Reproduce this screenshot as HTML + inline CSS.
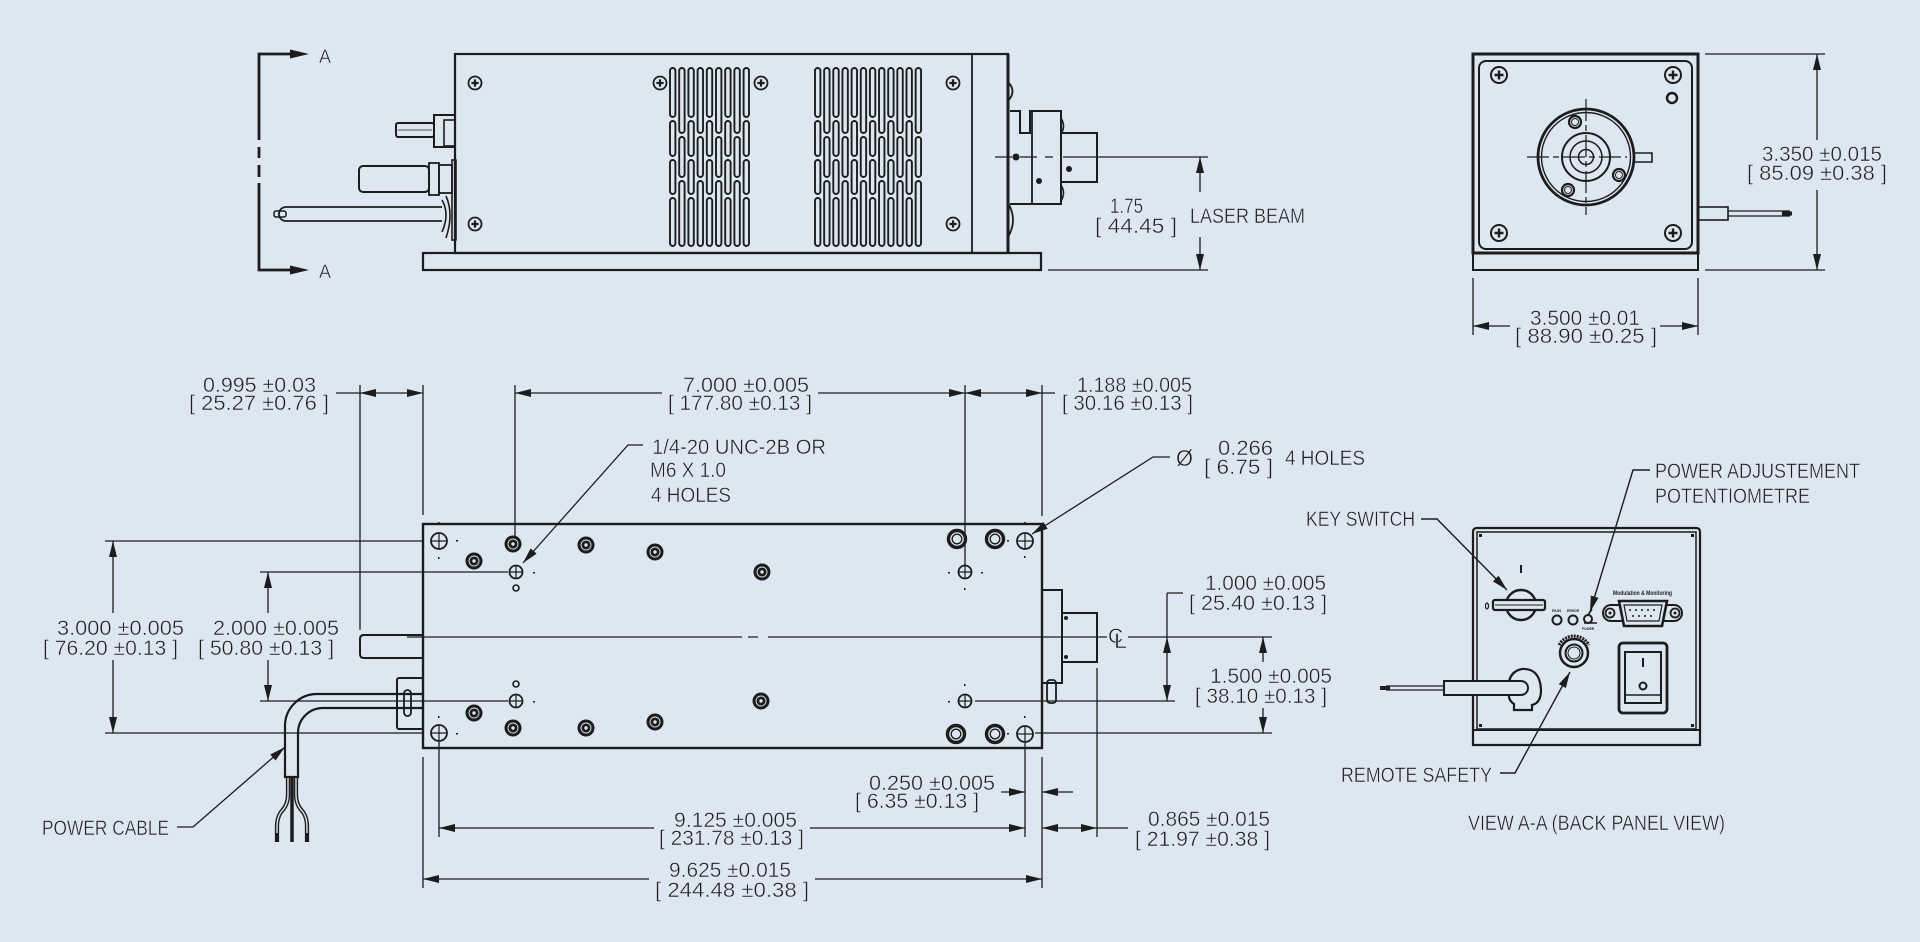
<!DOCTYPE html>
<html><head><meta charset="utf-8"><style>
html,body{margin:0;padding:0;background:#dde7f1;}
svg{display:block}
text{font-family:"Liberation Sans","DejaVu Sans",sans-serif;font-size:21px;fill:#1e1e1e;stroke:#dde7f1;stroke-width:0.45px;}
</style></head><body>
<svg width="1920" height="942" viewBox="0 0 1920 942" xmlns="http://www.w3.org/2000/svg" xmlns:xlink="http://www.w3.org/1999/xlink">
<rect width="1920" height="942" fill="#dde7f1"/>
<defs>
<g id="va" fill="#dde7f1" stroke="#1c1c1c" stroke-width="1.9">
<rect x="0" y="68" width="5.4" height="49" rx="2.7"/>
<rect x="0" y="121" width="5.4" height="35" rx="2.7"/>
<rect x="0" y="160" width="5.4" height="34" rx="2.7"/>
<rect x="0" y="198" width="5.4" height="48" rx="2.7"/>
</g>
<g id="vb" fill="#dde7f1" stroke="#1c1c1c" stroke-width="1.9">
<rect x="0" y="68" width="5.4" height="65" rx="2.7"/>
<rect x="0" y="137" width="5.4" height="40" rx="2.7"/>
<rect x="0" y="181" width="5.4" height="65" rx="2.7"/>
</g>
<g id="dark"><circle r="8.5" fill="#1c1c1c"/><circle r="5" fill="none" stroke="#dde7f1" stroke-width="0.9"/><circle r="1.7" fill="#dde7f1"/></g>
<g id="ring" fill="none" stroke="#1c1c1c"><circle r="8.5" stroke-width="3.4"/><circle r="4.8" stroke-width="1.3"/></g>
<g id="clr" fill="none" stroke="#1c1c1c"><circle r="8" stroke-width="1.8"/><path d="M-8,0H8M0,-8V8" stroke-width="1.2"/></g>
<g id="thr" fill="none" stroke="#1c1c1c"><circle r="6.5" stroke-width="1.8"/><path d="M-6.5,0H6.5M0,-6.5V6.5" stroke-width="1.2"/></g>
<g id="scr" fill="none" stroke="#1c1c1c"><circle r="6.5" stroke-width="1.8"/><path d="M-3.6,0H3.6M0,-3.6V3.6" stroke-width="2.2"/></g>
<g id="scr2" fill="none" stroke="#1c1c1c"><circle r="8" stroke-width="2"/><path d="M-4.5,0H4.5M0,-4.5V4.5" stroke-width="2.4"/></g>
</defs>

<!-- ================= TOP SIDE VIEW ================= -->
<g fill="none" stroke="#1c1c1c" stroke-width="1.4">
<path d="M292,54 H259 V140 M259,147 V158 M259,165 V177 M259,183 V270 H292" stroke-width="2.8"/>
<rect x="455" y="54" width="553" height="199" stroke-width="2.2"/>
<line x1="972" y1="54" x2="972" y2="253" stroke-width="1.8"/>
<line x1="1008" y1="54" x2="1008" y2="253" stroke-width="3"/>
<rect x="423" y="253" width="618" height="17" stroke-width="2.2"/>
<rect x="434" y="115" width="21" height="32" stroke-width="2"/>
<rect x="444" y="120" width="11" height="26" stroke-width="1.6"/>
<rect x="396" y="123" width="38" height="14" rx="2" stroke-width="2"/>
<line x1="398" y1="130" x2="432" y2="130" stroke-width="0.8"/>
<rect x="359" y="166" width="70" height="26" rx="4" stroke-width="2"/>
<rect x="429" y="163" width="10" height="32" stroke-width="1.8"/>
<rect x="439" y="165" width="13" height="28" stroke-width="1.8"/>
<rect x="452" y="160" width="4" height="80" stroke-width="1.6"/>
<path d="M286,207 H442 M286,221 H442" stroke-width="1.8"/>
<path d="M286,207 A7,7 0 0 0 286,221" stroke-width="1.8"/>
<rect x="274" y="211" width="12" height="6" rx="2" stroke-width="1.5"/>
<path d="M442,200 Q450,214 442,232 M446,196 Q454,214 446,238" stroke-width="1.6"/>
<path d="M1008,82 Q1017,91 1008,101 M1008,203 Q1018,220 1008,237" stroke-width="1.8"/>
<path d="M1010,111 H1020 V133 H1030 V111 H1061 V204 H1010" stroke-width="2"/>
<line x1="1032" y1="111" x2="1032" y2="204" stroke-width="1.8"/>
<path d="M1061,118 Q1066,126 1061,134 M1061,185 Q1066,193 1061,201" stroke-width="1.6"/>
<rect x="1061" y="133" width="36" height="49" stroke-width="2"/>
<path d="M995,157 H1012 M1020,157 H1037 M1045,157 H1053 M1063,157 H1208" stroke-width="1.2"/>
<path d="M1200,157 V192 M1200,237 V270 M1048,270 H1208" stroke-width="1.3"/>
</g>
<g fill="#1c1c1c">
<polygon points="309,54 290,49.5 290,58.5"/>
<polygon points="309,270 290,265.5 290,274.5"/>
<circle cx="1016" cy="157" r="3.5"/><circle cx="1039" cy="181" r="3"/><circle cx="1069" cy="169" r="3"/>
<polygon points="1200,157 1196,173 1204,173"/>
<polygon points="1200,270 1196,254 1204,254"/>
</g>
<use xlink:href="#scr" x="475" y="83"/><use xlink:href="#scr" x="475" y="224"/>
<use xlink:href="#scr" x="660" y="83"/><use xlink:href="#scr" x="761" y="83"/>
<use xlink:href="#scr" x="953" y="83"/><use xlink:href="#scr" x="953" y="224"/>
<use xlink:href="#va" x="670"/><use xlink:href="#vb" x="679.2"/><use xlink:href="#va" x="688.4"/>
<use xlink:href="#vb" x="697.6"/><use xlink:href="#va" x="706.8"/><use xlink:href="#vb" x="716"/>
<use xlink:href="#va" x="725.2"/><use xlink:href="#vb" x="734.4"/><use xlink:href="#va" x="743.6"/>
<use xlink:href="#va" x="815"/><use xlink:href="#vb" x="824.15"/><use xlink:href="#va" x="833.3"/>
<use xlink:href="#vb" x="842.45"/><use xlink:href="#va" x="851.6"/><use xlink:href="#vb" x="860.75"/>
<use xlink:href="#va" x="869.9"/><use xlink:href="#vb" x="879.05"/><use xlink:href="#va" x="888.2"/>
<use xlink:href="#vb" x="897.35"/><use xlink:href="#va" x="906.5"/><use xlink:href="#vb" x="915.65"/>

<text x="319" y="63" style="font-size:19px" textLength="12" lengthAdjust="spacingAndGlyphs">A</text>
<text x="319" y="278" style="font-size:19px" textLength="12" lengthAdjust="spacingAndGlyphs">A</text>
<text x="1110" y="213" textLength="33" lengthAdjust="spacingAndGlyphs">1.75</text>
<text x="1095" y="233" textLength="82" lengthAdjust="spacingAndGlyphs">[ 44.45 ]</text>
<text x="1190" y="223" textLength="115" lengthAdjust="spacingAndGlyphs">LASER BEAM</text>

<!-- ================= END VIEW ================= -->
<g fill="none" stroke="#1c1c1c" stroke-width="1.4">
<rect x="1473" y="54" width="225" height="199" stroke-width="3"/>
<rect x="1473" y="253" width="225" height="17" stroke-width="2"/>
<rect x="1479" y="61" width="213" height="188" rx="7" stroke-width="2"/>
<circle cx="1672" cy="98" r="5" stroke-width="2.4"/>
<circle cx="1586" cy="157" r="48" stroke-width="2.8"/>
<circle cx="1586" cy="157" r="44.5" stroke-width="1.4"/>
<circle cx="1586" cy="157" r="24" stroke-width="2"/>
<circle cx="1586" cy="157" r="16" stroke-width="1.5"/>
<circle cx="1586" cy="157" r="7.5" stroke-width="1.5"/>
<circle cx="1575" cy="122" r="6" stroke-width="2.2"/><circle cx="1575" cy="122" r="3.5" stroke-width="1"/>
<circle cx="1619" cy="175" r="6" stroke-width="2.2"/><circle cx="1619" cy="175" r="3.5" stroke-width="1"/>
<circle cx="1568" cy="190" r="6" stroke-width="2.2"/><circle cx="1568" cy="190" r="3.5" stroke-width="1"/>
<path d="M1633,153 H1652 V162 H1633" stroke-width="1.6"/>
<path d="M1527,157 H1627" stroke-dasharray="22,4,6,4" stroke-width="1.2"/>
<path d="M1586,99 V215" stroke-dasharray="22,4,6,4" stroke-width="1.2"/>
<rect x="1698" y="207" width="30" height="13" stroke-width="1.6"/>
<path d="M1728,211 H1790 M1728,216 H1790" stroke-width="1.2"/>
<line x1="1782" y1="213.5" x2="1792" y2="213.5" stroke-width="4"/>
<path d="M1705,54 H1825 M1705,270 H1825 M1817,54 V140 M1817,190 V270" stroke-width="1.3"/>
<path d="M1473,278 V335 M1698,278 V335 M1473,326 H1510 M1660,326 H1698" stroke-width="1.3"/>
</g>
<use xlink:href="#scr2" x="1499" y="75"/><use xlink:href="#scr2" x="1673" y="75"/>
<use xlink:href="#scr2" x="1499" y="233"/><use xlink:href="#scr2" x="1673" y="233"/>
<g fill="#1c1c1c">
<polygon points="1817,54 1813,70 1821,70"/>
<polygon points="1817,270 1813,254 1821,254"/>
<polygon points="1473,326 1489,322 1489,330"/>
<polygon points="1698,326 1682,322 1682,330"/>
</g>
<text x="1762" y="161" textLength="120" lengthAdjust="spacingAndGlyphs">3.350 ±0.015</text>
<text x="1747" y="180" textLength="140" lengthAdjust="spacingAndGlyphs">[ 85.09 ±0.38 ]</text>
<text x="1530" y="325" textLength="110" lengthAdjust="spacingAndGlyphs">3.500 ±0.01</text>
<text x="1515" y="343" textLength="142" lengthAdjust="spacingAndGlyphs">[ 88.90 ±0.25 ]</text>

<!-- ================= PLAN VIEW ================= -->
<g fill="none" stroke="#1c1c1c" stroke-width="1.3">
<rect x="423" y="524" width="619" height="224" stroke-width="2.4"/>
<path d="M407,637 H742 M748,637 H758 M768,637 H1107 M1128,637 H1272" stroke-width="1.3"/>
<path d="M360,385 V630 M423,385 V515 M515,385 V536 M965,385 V565 M1042,385 V516"/>
<path d="M336,393 H423 M515,393 H662 M818,393 H1055"/>
<path d="M105,541 H423 M105,733 H423 M113,541 V613 M113,660 V733 M260,572 H508 M260,701 H508 M268,572 V613 M268,660 V701"/>
<path d="M975,701 H1175 M1035,733 H1272 M1167,593 H1183 M1167,593 V701 M1263,637 V662 M1263,708 V733"/>
<path d="M423,757 V888 M439,742 V837 M1025,743 V837 M1042,757 V888 M1097,668 V837 M439,828 H654 M810,828 H1025 M423,879 H649 M815,879 H1042 M1001,792 H1025 M1042,792 H1073 M1042,828 H1128"/>
<path d="M643,445 H628 L523,563"/>
<path d="M1170,457 H1153 L1032,534"/>
<path d="M177,827 H193 L285,747"/>
<rect x="1042" y="590" width="20" height="93" stroke-width="2"/>
<rect x="1062" y="613" width="35" height="49" stroke-width="2"/>
<rect x="1047" y="680" width="9" height="23" rx="3" stroke-width="1.8"/>
<path d="M423,635 H364 Q360,635 360,639 V654 Q360,658 364,658 H423" stroke-width="2"/>
<rect x="397" y="678" width="26" height="51" rx="2" stroke-width="2"/>
<rect x="404" y="690" width="7" height="26" rx="3.5" stroke-width="1.8"/>
<path d="M423,694 H317 A32,32 0 0 0 285,726 V777 H298 V733 A25,25 0 0 1 323,708 H423" stroke-width="2.2"/>
</g>
<g fill="none" stroke-linecap="butt">
<path d="M288,778 V795 Q288,805 281,812 Q277,818 277,826 V842" stroke="#1c1c1c" stroke-width="4.2"/>
<path d="M288,778 V795 Q288,805 281,812 Q277,818 277,826 V833" stroke="#dde7f1" stroke-width="1.4"/>
<path d="M296,778 V795 Q296,805 303,812 Q307,818 307,826 V842" stroke="#1c1c1c" stroke-width="4.2"/>
<path d="M296,778 V795 Q296,805 303,812 Q307,818 307,826 V833" stroke="#dde7f1" stroke-width="1.4"/>
<path d="M292,778 V842" stroke="#1c1c1c" stroke-width="3.5"/>
</g>
<use xlink:href="#clr" x="439" y="541"/>
<use xlink:href="#dark" x="474" y="561"/><use xlink:href="#dark" x="513" y="544"/>
<use xlink:href="#thr" x="516" y="572"/>
<circle cx="516" cy="588" r="3" fill="none" stroke="#1c1c1c" stroke-width="1.6"/>
<use xlink:href="#dark" x="586" y="545"/><use xlink:href="#dark" x="655" y="552"/><use xlink:href="#dark" x="762" y="572"/>
<use xlink:href="#ring" x="957" y="539"/><use xlink:href="#ring" x="995" y="539"/>
<use xlink:href="#clr" x="1025" y="541"/>
<use xlink:href="#thr" x="965" y="572"/>
<use xlink:href="#clr" x="439" y="733"/>
<use xlink:href="#dark" x="474" y="713"/><use xlink:href="#dark" x="513" y="728"/>
<use xlink:href="#thr" x="516" y="701"/>
<circle cx="516" cy="684" r="3" fill="none" stroke="#1c1c1c" stroke-width="1.6"/>
<use xlink:href="#dark" x="586" y="728"/><use xlink:href="#dark" x="655" y="722"/><use xlink:href="#dark" x="761" y="701"/>
<use xlink:href="#ring" x="956" y="734"/><use xlink:href="#ring" x="995" y="734"/>
<use xlink:href="#clr" x="1025" y="734"/>
<use xlink:href="#thr" x="965" y="701"/>
<g fill="#1c1c1c">
<rect x="438" y="522" width="1.5" height="2"/><rect x="456" y="540" width="2" height="1.5"/><rect x="438" y="557" width="1.5" height="2"/>
<rect x="438" y="716" width="1.5" height="2"/><rect x="456" y="733" width="2" height="1.5"/>
<rect x="1007" y="540" width="2" height="1.5"/><rect x="1024" y="522" width="1.5" height="2"/><rect x="1024" y="556" width="1.5" height="2"/>
<rect x="1007" y="733" width="2" height="1.5"/><rect x="1024" y="716" width="1.5" height="2"/>
<rect x="948" y="572" width="2" height="1.5"/><rect x="981" y="572" width="2" height="1.5"/><rect x="964" y="588" width="1.5" height="2"/>
<rect x="948" y="701" width="2" height="1.5"/><rect x="964" y="684" width="1.5" height="2"/>
<rect x="533" y="572" width="2" height="1.5"/><rect x="533" y="701" width="2" height="1.5"/>
<circle cx="1066" cy="618" r="2"/><circle cx="1066" cy="657" r="2"/>
<polygon points="360,393 376,389 376,397"/>
<polygon points="423,393 407,389 407,397"/>
<polygon points="515,393 531,389 531,397"/>
<polygon points="965,393 949,389 949,397"/>
<polygon points="965,393 981,389 981,397"/>
<polygon points="1042,393 1026,389 1026,397"/>
<polygon points="113,541 109,557 117,557"/>
<polygon points="113,733 109,717 117,717"/>
<polygon points="268,572 264,588 272,588"/>
<polygon points="268,701 264,685 272,685"/>
<polygon points="1167,637 1163,653 1171,653"/>
<polygon points="1167,701 1163,685 1171,685"/>
<polygon points="1263,637 1259,653 1267,653"/>
<polygon points="1263,733 1259,717 1267,717"/>
<polygon points="439,828 455,824 455,832"/>
<polygon points="1025,828 1009,824 1009,832"/>
<polygon points="423,879 439,875 439,883"/>
<polygon points="1042,879 1026,875 1026,883"/>
<polygon points="1025,792 1009,788 1009,796"/>
<polygon points="1042,792 1058,788 1058,796"/>
<polygon points="1042,828 1058,824 1058,832"/>
<polygon points="1097,828 1081,824 1081,832"/>
<polygon points="523,563 536.6,553.7 530.6,548.4"/>
<polygon points="1032,534 1047.65,528.78 1043.35,522.02"/>
<polygon points="285,747 275.54,760.52 270.3,754.48"/>
</g>
<text x="203" y="392" textLength="113" lengthAdjust="spacingAndGlyphs">0.995 ±0.03</text>
<text x="189" y="410" textLength="140" lengthAdjust="spacingAndGlyphs">[ 25.27 ±0.76 ]</text>
<text x="683" y="392" textLength="126" lengthAdjust="spacingAndGlyphs">7.000 ±0.005</text>
<text x="668" y="410" textLength="144" lengthAdjust="spacingAndGlyphs">[ 177.80 ±0.13 ]</text>
<text x="1077" y="392" textLength="115" lengthAdjust="spacingAndGlyphs">1.188 ±0.005</text>
<text x="1062" y="410" textLength="131" lengthAdjust="spacingAndGlyphs">[ 30.16 ±0.13 ]</text>
<text x="652" y="454" textLength="174" lengthAdjust="spacingAndGlyphs">1/4-20 UNC-2B OR</text>
<text x="650" y="477" textLength="76" lengthAdjust="spacingAndGlyphs">M6 X 1.0</text>
<text x="651" y="502" textLength="80" lengthAdjust="spacingAndGlyphs">4 HOLES</text>
<text x="1176" y="466" style="font-size:23px" textLength="17" lengthAdjust="spacingAndGlyphs">Ø</text>
<text x="1218" y="455" textLength="55" lengthAdjust="spacingAndGlyphs">0.266</text>
<text x="1204" y="474" textLength="69" lengthAdjust="spacingAndGlyphs">[ 6.75 ]</text>
<text x="1285" y="465" textLength="80" lengthAdjust="spacingAndGlyphs">4 HOLES</text>
<text x="1205" y="590" textLength="121" lengthAdjust="spacingAndGlyphs">1.000 ±0.005</text>
<text x="1189" y="610" textLength="138" lengthAdjust="spacingAndGlyphs">[ 25.40 ±0.13 ]</text>
<text x="1108" y="643" textLength="15" lengthAdjust="spacingAndGlyphs">C</text>
<text x="1114" y="648" textLength="13" lengthAdjust="spacingAndGlyphs">L</text>
<text x="1210" y="683" textLength="122" lengthAdjust="spacingAndGlyphs">1.500 ±0.005</text>
<text x="1195" y="703" textLength="132" lengthAdjust="spacingAndGlyphs">[ 38.10 ±0.13 ]</text>
<text x="57" y="635" textLength="127" lengthAdjust="spacingAndGlyphs">3.000 ±0.005</text>
<text x="43" y="655" textLength="135" lengthAdjust="spacingAndGlyphs">[ 76.20 ±0.13 ]</text>
<text x="213" y="635" textLength="126" lengthAdjust="spacingAndGlyphs">2.000 ±0.005</text>
<text x="198" y="655" textLength="136" lengthAdjust="spacingAndGlyphs">[ 50.80 ±0.13 ]</text>
<text x="42" y="835" textLength="127" lengthAdjust="spacingAndGlyphs">POWER CABLE</text>
<text x="869" y="790" textLength="126" lengthAdjust="spacingAndGlyphs">0.250 ±0.005</text>
<text x="855" y="808" textLength="124" lengthAdjust="spacingAndGlyphs">[ 6.35 ±0.13 ]</text>
<text x="674" y="827" textLength="123" lengthAdjust="spacingAndGlyphs">9.125 ±0.005</text>
<text x="659" y="845" textLength="145" lengthAdjust="spacingAndGlyphs">[ 231.78 ±0.13 ]</text>
<text x="669" y="877" textLength="122" lengthAdjust="spacingAndGlyphs">9.625 ±0.015</text>
<text x="655" y="897" textLength="154" lengthAdjust="spacingAndGlyphs">[ 244.48 ±0.38 ]</text>
<text x="1148" y="826" textLength="122" lengthAdjust="spacingAndGlyphs">0.865 ±0.015</text>
<text x="1135" y="846" textLength="135" lengthAdjust="spacingAndGlyphs">[ 21.97 ±0.38 ]</text>

<!-- ================= BACK PANEL VIEW ================= -->
<g fill="none" stroke="#1c1c1c" stroke-width="1.4">
<path d="M1473,745 V532 Q1473,528 1477,528 H1696 Q1700,528 1700,532 V745 Z" stroke-width="2.2"/>
<rect x="1477" y="532" width="219" height="197" stroke-width="1.5"/>
<line x1="1473" y1="730" x2="1700" y2="730" stroke-width="2"/>
<circle cx="1521" cy="605" r="15" stroke-width="2.4"/>
<rect x="1493" y="600" width="52" height="10" rx="2" fill="#dde7f1" stroke-width="2.2"/>
<line x1="1495" y1="605" x2="1543" y2="605" stroke-width="1"/>
<line x1="1521" y1="565" x2="1521" y2="573" stroke-width="2"/>
<ellipse cx="1487" cy="606" rx="1.5" ry="3" stroke-width="1.2"/>
<circle cx="1557" cy="620" r="4.5" stroke-width="2"/>
<circle cx="1573" cy="620" r="4.5" stroke-width="2"/>
<circle cx="1588" cy="619" r="4" stroke-width="2"/>
<path d="M1584,623 H1597 M1588,615 L1592,609" stroke-width="1.6"/>
<rect x="1603" y="605" width="79" height="16" rx="8" stroke-width="2"/>
<path d="M1619,601 H1667 L1662,626 H1624 Z" fill="#dde7f1" stroke-width="2.6"/>
<path d="M1624,605 H1662 L1659,621 H1627 Z" stroke-width="1.2"/>
<circle cx="1610" cy="613" r="4.5" stroke-width="1.8"/>
<circle cx="1675" cy="613" r="4.5" stroke-width="1.8"/>
<circle cx="1574" cy="653" r="14" stroke-width="2.5"/>
<circle cx="1574" cy="653" r="8.5" stroke-width="2"/>
<circle cx="1574" cy="653" r="6" stroke-width="1"/>
<path d="M1559,645 A17,17 0 0 1 1589,645" stroke-width="3" stroke-dasharray="2,1"/>
<rect x="1619" y="643" width="48" height="70" rx="4" stroke-width="2.8"/>
<rect x="1625" y="652" width="36" height="51" stroke-width="2"/>
<line x1="1625" y1="695" x2="1661" y2="695" stroke-width="1.5"/>
<line x1="1643" y1="658" x2="1643" y2="667" stroke-width="2"/>
<circle cx="1643" cy="686" r="3.5" stroke-width="2"/>
<path d="M1509,694 Q1506,672 1522,669 Q1540,668 1541,690 Q1541,703 1532,705 V710 H1514 V704 Q1508,700 1509,694 Z" stroke-width="2.2"/>
<path d="M1444,681 H1521 A7,7 0 0 1 1521,695 H1444 Z" fill="#dde7f1" stroke-width="2"/>
<path d="M1386,686 H1444 M1386,690 H1444" stroke-width="1.2"/>
<line x1="1380" y1="688" x2="1390" y2="688" stroke-width="4"/>
<path d="M1421,519 H1437 L1507,590"/>
<path d="M1650,470 H1633 L1590,612"/>
<path d="M1500,773 H1515 L1570,672"/>
</g>
<g fill="#1c1c1c">
<rect x="1479" y="534" width="3" height="3"/><rect x="1691" y="534" width="3" height="3"/>
<rect x="1479" y="724" width="3" height="3"/><rect x="1691" y="724" width="3" height="3"/>
<circle cx="1610" cy="613" r="1.5"/><circle cx="1675" cy="613" r="1.5"/>
<circle cx="1630" cy="610" r="1"/><circle cx="1636" cy="610" r="1"/><circle cx="1642" cy="610" r="1"/><circle cx="1648" cy="610" r="1"/><circle cx="1654" cy="610" r="1"/>
<circle cx="1633" cy="616" r="1"/><circle cx="1639" cy="616" r="1"/><circle cx="1645" cy="616" r="1"/><circle cx="1651" cy="616" r="1"/>
<polygon points="1507,590 1492.92,581.42 1498.62,575.8"/>
<polygon points="1590,612 1598.47,597.85 1590.81,595.53"/>
<polygon points="1570,672 1565.86,687.96 1558.84,684.14"/>
</g>
<text x="1613" y="595" style="font-size:6px;font-weight:bold;stroke:none" textLength="59" lengthAdjust="spacingAndGlyphs">Modulation &amp; Monitoring</text>
<text x="1552" y="612" style="font-size:4px;font-weight:bold;stroke:none" textLength="9" lengthAdjust="spacingAndGlyphs">RUN</text>
<text x="1567" y="612" style="font-size:4px;font-weight:bold;stroke:none" textLength="12" lengthAdjust="spacingAndGlyphs">ERROR</text>
<text x="1582" y="630" style="font-size:4px;font-weight:bold;stroke:none" textLength="12" lengthAdjust="spacingAndGlyphs">POWER</text>
<text x="1306" y="526" textLength="109" lengthAdjust="spacingAndGlyphs">KEY SWITCH</text>
<text x="1655" y="478" textLength="205" lengthAdjust="spacingAndGlyphs">POWER ADJUSTEMENT</text>
<text x="1655" y="503" textLength="155" lengthAdjust="spacingAndGlyphs">POTENTIOMETRE</text>
<text x="1341" y="782" textLength="151" lengthAdjust="spacingAndGlyphs">REMOTE SAFETY</text>
<text x="1468" y="830" textLength="257" lengthAdjust="spacingAndGlyphs">VIEW A-A (BACK PANEL VIEW)</text>
</svg>
</body></html>
